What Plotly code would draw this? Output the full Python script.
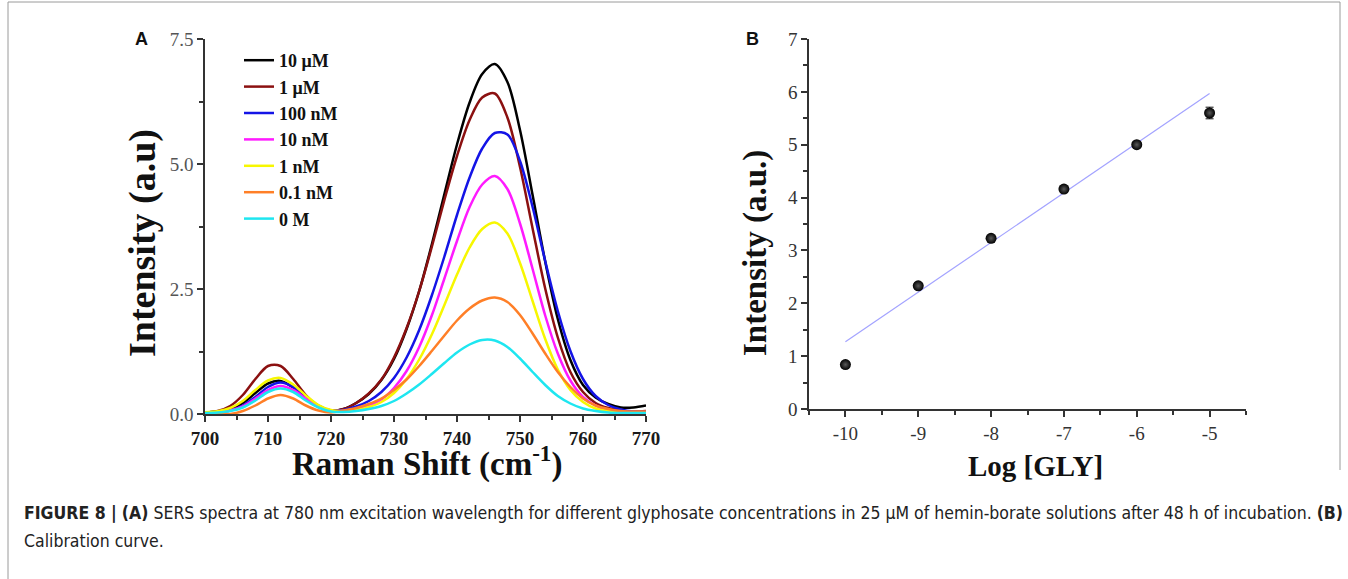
import plotly.graph_objects as go

# ---------------- data ----------------
raman_shift = list(range(700, 771, 2))

s_10uM = [0.03, 0.05, 0.09, 0.22, 0.42, 0.61, 0.66, 0.53, 0.31, 0.15,
          0.07, 0.10, 0.22, 0.40, 0.68, 1.10, 1.70, 2.46, 3.39, 4.40,
          5.39, 6.23, 6.80, 7.00, 6.64, 5.68, 4.38, 3.05, 1.90, 1.08,
          0.58, 0.33, 0.20, 0.13, 0.13, 0.17]
s_1uM = [0.03, 0.06, 0.16, 0.38, 0.70, 0.96, 0.96, 0.70, 0.38, 0.16,
         0.07, 0.10, 0.22, 0.41, 0.69, 1.13, 1.72, 2.46, 3.34, 4.28,
         5.16, 5.88, 6.33, 6.41, 5.93, 4.94, 3.71, 2.51, 1.53, 0.84,
         0.44, 0.22, 0.12, 0.07, 0.05, 0.06]
s_100nM = [0.03, 0.04, 0.07, 0.17, 0.34, 0.54, 0.63, 0.54, 0.34, 0.17,
           0.07, 0.08, 0.15, 0.26, 0.44, 0.72, 1.13, 1.68, 2.37, 3.15,
           3.98, 4.73, 5.31, 5.62, 5.59, 5.06, 4.14, 3.06, 2.06, 1.26,
           0.70, 0.36, 0.18, 0.09, 0.05, 0.05]
s_10nM = [0.03, 0.04, 0.07, 0.15, 0.31, 0.48, 0.56, 0.48, 0.31, 0.15,
          0.07, 0.06, 0.09, 0.17, 0.29, 0.52, 0.86, 1.34, 1.97, 2.71,
          3.46, 4.14, 4.59, 4.76, 4.50, 3.81, 2.90, 1.97, 1.21, 0.67,
          0.34, 0.17, 0.08, 0.05, 0.04, 0.04]
s_1nM = [0.035, 0.056, 0.12, 0.26, 0.48, 0.67, 0.72, 0.59, 0.37, 0.18,
         0.08, 0.06, 0.08, 0.14, 0.24, 0.42, 0.70, 1.09, 1.59, 2.18,
         2.79, 3.33, 3.70, 3.83, 3.61, 3.02, 2.26, 1.50, 0.89, 0.48,
         0.24, 0.11, 0.06, 0.04, 0.03, 0.03]
s_01nM = [0.0, 0.0, 0.0, 0.06, 0.17, 0.31, 0.38, 0.31, 0.17, 0.07,
          0.03, 0.07, 0.12, 0.20, 0.31, 0.48, 0.69, 0.96, 1.26, 1.57,
          1.87, 2.11, 2.27, 2.33, 2.24, 1.98, 1.61, 1.21, 0.84, 0.54,
          0.31, 0.17, 0.10, 0.06, 0.05, 0.05]
s_0M = [0.02, 0.03, 0.06, 0.13, 0.27, 0.44, 0.51, 0.44, 0.27, 0.13,
        0.05, 0.04, 0.06, 0.10, 0.16, 0.26, 0.41, 0.59, 0.80, 1.02,
        1.23, 1.39, 1.48, 1.47, 1.34, 1.11, 0.84, 0.58, 0.36, 0.21,
        0.11, 0.06, 0.03, 0.02, 0.02, 0.02]

series_names = ["10 μM", "1 μM", "100 nM", "10 nM", "1 nM", "0.1 nM", "0 M"]
series_colors = ["#000000", "#8b1010", "#1414e6", "#ff1aff", "#f7f700", "#ff7f27", "#1ee6f0"]

a_xticks = [700, 710, 720, 730, 740, 750, 760, 770]
a_yticks = [0, 2.5, 5, 7.5]

log_gly = [-10, -9, -8, -7, -6, -5]
intensity = [0.84, 2.33, 3.23, 4.16, 5.00, 5.60]
intensity_err = [0.05, 0.05, 0.05, 0.05, 0.05, 0.11]
fit_x = [-10, -5]
fit_y = [1.27, 5.97]
b_xticks = [-10, -9, -8, -7, -6, -5]
b_xticklabels = ["-10", "-9", "-8", "-7", "-6", "-5"]
b_yticks = [0, 1, 2, 3, 4, 5, 6, 7]

caption_1 = ("<b>FIGURE 8 |</b> <b>(A)</b> SERS spectra at 780 nm excitation wavelength for different "
             "glyphosate concentrations in 25 μM of hemin-borate solutions after 48 h of incubation. <b>(B)</b>")
caption_2 = "Calibration curve."

# ---------------- layout helpers ----------------
W, H = 1348, 579
def fx(p):
    return p / W
def fy(p):
    return 1 - p / H

SERIF = "Liberation Serif"
AXC = "#333333"

fig = go.Figure()
all_series = [s_10uM, s_1uM, s_100nM, s_10nM, s_1nM, s_01nM, s_0M]
for name, color, ys in zip(series_names, series_colors, all_series):
    fig.add_trace(go.Scatter(x=raman_shift, y=ys, mode="lines", name=name,
                             line=dict(color=color, width=2.5, shape="spline", smoothing=0.9),
                             xaxis="x", yaxis="y"))

fig.add_trace(go.Scatter(x=fit_x, y=fit_y, mode="lines", showlegend=False,
                         line=dict(color="#a3a3ff", width=1.2), xaxis="x2", yaxis="y2"))
fig.add_trace(go.Scatter(x=log_gly, y=intensity, mode="markers", showlegend=False,
                         marker=dict(size=11, color="#000000",
                                     gradient=dict(type="radial", color="#5a5a5a")),
                         error_y=dict(type="data", array=intensity_err, color="#111111",
                                      thickness=1, width=4),
                         xaxis="x2", yaxis="y2"))

axis_common = dict(showline=True, linecolor=AXC, linewidth=1.5, ticks="outside",
                   ticklen=6, tickwidth=1.5, tickcolor=AXC, showgrid=False, zeroline=False,
                   fixedrange=True, automargin=False)

fig.update_layout(
    template="none",
    width=W, height=H,
    margin=dict(l=0, r=0, t=0, b=0, pad=0, autoexpand=False),
    paper_bgcolor="white", plot_bgcolor="white",
    hovermode=False,
    xaxis=dict(domain=[fx(205), fx(646)], range=[700, 770], anchor="y",
               tickvals=a_xticks,
               tickfont=dict(family=SERIF, size=19, color="#1a1a1a", weight="bold"),
               minor=dict(ticks="outside", ticklen=4, tickwidth=1.5, tickcolor=AXC, dtick=5,
                          tick0=700, showgrid=False),
               **axis_common),
    yaxis=dict(domain=[fy(414), fy(39)], range=[0, 7.5], anchor="x",
               tickvals=a_yticks, tickformat=".1f",
               tickfont=dict(family=SERIF, size=19, color="#555555"),
               minor=dict(ticks="outside", ticklen=4, tickwidth=1.5, tickcolor=AXC, dtick=1.25,
                          tick0=0, showgrid=False),
               **axis_common),
    xaxis2=dict(domain=[fx(809), fx(1246)], range=[-10.5, -4.5], anchor="y2",
                tickvals=b_xticks, ticktext=b_xticklabels,
                tickfont=dict(family=SERIF, size=19, color="#333333"),
                minor=dict(ticks="outside", ticklen=4, tickwidth=1.5, tickcolor=AXC, dtick=0.5,
                           tick0=-10, showgrid=False),
                **axis_common),
    yaxis2=dict(domain=[fy(409), fy(39)], range=[0, 7], anchor="x2",
                tickvals=b_yticks,
                tickfont=dict(family=SERIF, size=19, color="#333333"),
                minor=dict(ticks="outside", ticklen=4, tickwidth=1.5, tickcolor=AXC, dtick=0.5,
                           tick0=0, showgrid=False),
                **axis_common),
    legend=dict(x=fx(239), y=fy(42), xanchor="left", yanchor="top",
                font=dict(family=SERIF, size=18, color="#111111", weight="bold"),
                bgcolor="rgba(0,0,0,0)", borderwidth=0, tracegroupgap=0),
    showlegend=True,
)

def label(text, x, y, size, family=SERIF, angle=0, xanchor="center"):
    return dict(text=text, x=fx(x), y=fy(y), xref="paper", yref="paper", xanchor=xanchor,
                yanchor="middle", textangle=angle, showarrow=False,
                font=dict(family=family, size=size, color="#111"))

ann = [
    label("<b>A</b>", 141, 39, 18, family="Liberation Sans"),
    label("<b>B</b>", 752, 39, 18, family="Liberation Sans"),
    label("<b>Intensity (a.u)</b>", 143, 243, 38, angle=-90),
    label("<b>Raman Shift (cm<sup>-1</sup>)</b>", 427, 462, 33),
    label("<b>Intensity (a.u.)</b>", 755, 253, 33, angle=-90),
    label("<b>Log [GLY]</b>", 1035, 466, 29),
]
cap1 = label(caption_1, 22, 513, 17.5, family="DejaVu Sans Condensed", xanchor="left")
cap2 = label(caption_2, 22, 541, 17.5, family="DejaVu Sans Condensed", xanchor="left")
cap1["font"]["color"] = "#222"
cap2["font"]["color"] = "#222"
ann += [cap1, cap2]
fig.update_layout(annotations=ann)

frame = dict(color="#9a9a9a", width=1)
shapes = [
    dict(type="line", xref="paper", yref="paper", x0=fx(8), x1=fx(1340), y0=fy(2), y1=fy(2), line=frame),
    dict(type="line", xref="paper", yref="paper", x0=fx(8), x1=fx(8), y0=fy(2), y1=fy(579), line=frame),
    dict(type="line", xref="paper", yref="paper", x0=fx(1340), x1=fx(1340), y0=fy(2), y1=fy(470), line=frame),
]
fig.update_layout(shapes=shapes)

fig.write_html("out.html", config={"displayModeBar": False},
               post_script="document.body.style.margin='0px';")
